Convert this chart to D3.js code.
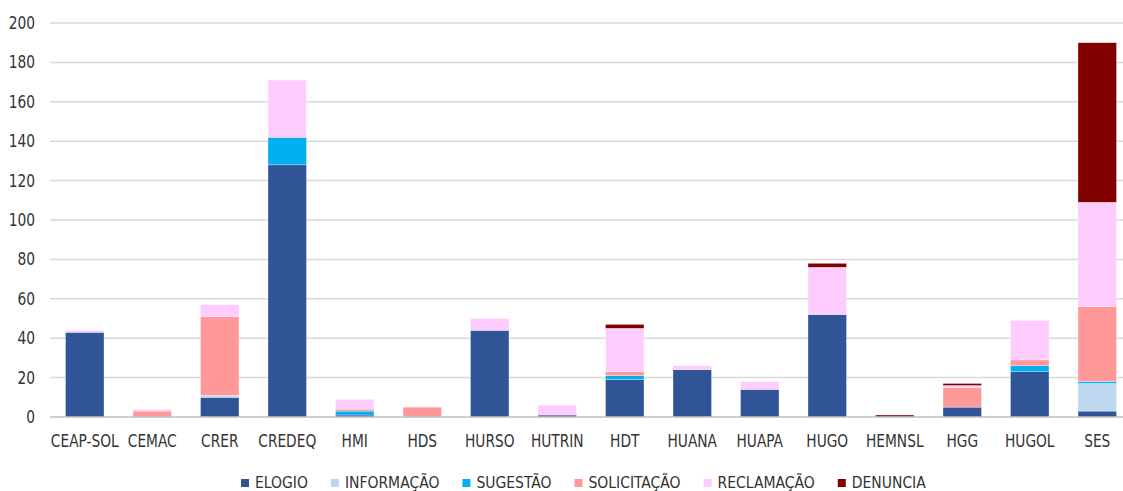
<!DOCTYPE html>
<html><head><meta charset="utf-8">
<script src="https://cdn.jsdelivr.net/npm/d3@7"></script>
<style>
html,body{margin:0;padding:0;background:#fff;}
svg text{font-family:"DejaVu Sans Condensed","Liberation Sans",sans-serif;font-stretch:condensed;fill:#333;}
</style></head>
<body>
<svg id="chart" width="1123" height="491"></svg>
<script>
const categories = ["CEAP-SOL","CEMAC","CRER","CREDEQ","HMI","HDS","HURSO","HUTRIN","HDT","HUANA","HUAPA","HUGO","HEMNSL","HGG","HUGOL","SES"];
const seriesNames = ["ELOGIO","INFORMAÇÃO","SUGESTÃO","SOLICITAÇÃO","RECLAMAÇÃO","DENUNCIA"];
const seriesColors = ["#2F5597","#BDD7EE","#00B0F0","#FF9999","#FFCCFF","#800000"];
const elogio      = [43,0,10,128,1,0,44,1,19,24,14,52,0,5,23,3];
const informacao  = [0,0,1,0,0,0,0,0,0,0,0,0,0,0,0,14];
const sugestao    = [0,0,0,14,2,0,0,0,2,0,0,0,0,0,3,1];
const solicitacao = [0,3,40,0,1,5,0,0,2,0,0,0,0,10,3,38];
const reclamacao  = [1,1,6,29,5,0,6,5,22,2,4,24,0,1,20,53];
const denuncia    = [0,0,0,0,0,0,0,0,2,0,0,2,1,1,0,81];
const yTicks = [0,20,40,60,80,100,120,140,160,180,200];

const seriesValues = [elogio,informacao,sugestao,solicitacao,reclamacao,denuncia];
const rows = categories.map((c,i)=>{
  const r = {cat:c};
  seriesNames.forEach((s,j)=>r[s]=seriesValues[j][i]);
  return r;
});

const svg = d3.select("#chart");
const x = d3.scaleBand().domain(categories).range([51,1131]).paddingInner(0.43).paddingOuter(0.215);
const y = d3.scaleLinear().domain([0,200]).range([417,23]);

// gridlines
svg.append("g").selectAll("line").data(yTicks.filter(d=>d>0)).join("line")
  .attr("x1",50).attr("x2",1123)
  .attr("y1",d=>y(d)).attr("y2",d=>y(d))
  .attr("stroke","#d9d9d9").attr("stroke-width",1.5);

// y labels
svg.append("g").selectAll("text").data(yTicks).join("text")
  .attr("transform",d=>`translate(35,${y(d)+6}) scale(0.9,1)`)
  .attr("text-anchor","end").attr("font-size",17)
  .text(d=>d);

// bars
const stack = d3.stack().keys(seriesNames)(rows);
svg.append("g").selectAll("g").data(stack).join("g")
  .attr("fill",(d,i)=>seriesColors[i])
  .selectAll("rect").data(d=>d.filter(p=>p[1]-p[0]>0)).join("rect")
  .attr("x",d=>x(d.data.cat))
  .attr("width",x.bandwidth())
  .attr("y",d=>y(d[1]))
  .attr("height",d=>y(d[0])-y(d[1]))
  .attr("stroke","#ffffff").attr("stroke-width",0.5).attr("stroke-opacity",0.6);

// baseline
svg.append("line").attr("x1",50).attr("x2",1123).attr("y1",y(0)).attr("y2",y(0))
  .attr("stroke","#bfbfbf").attr("stroke-width",1.5);

// x labels
svg.append("g").selectAll("text").data(categories).join("text")
  .attr("transform",d=>`translate(${x(d)+x.bandwidth()/2},447) scale(0.9,1)`)
  .attr("text-anchor","middle").attr("font-size",17)
  .text(d=>d);

// legend
const lg = svg.append("g");
let lx = 241;
seriesNames.forEach((s,i)=>{
  lg.append("rect").attr("x",lx).attr("y",479).attr("width",8).attr("height",8).attr("fill",seriesColors[i]);
  const t = lg.append("text").attr("x",lx+14).attr("y",488).attr("font-size",15.5).text(s);
  const w = t.node().getComputedTextLength();
  lx += 14 + w + 23;
});
</script>
</body></html>
